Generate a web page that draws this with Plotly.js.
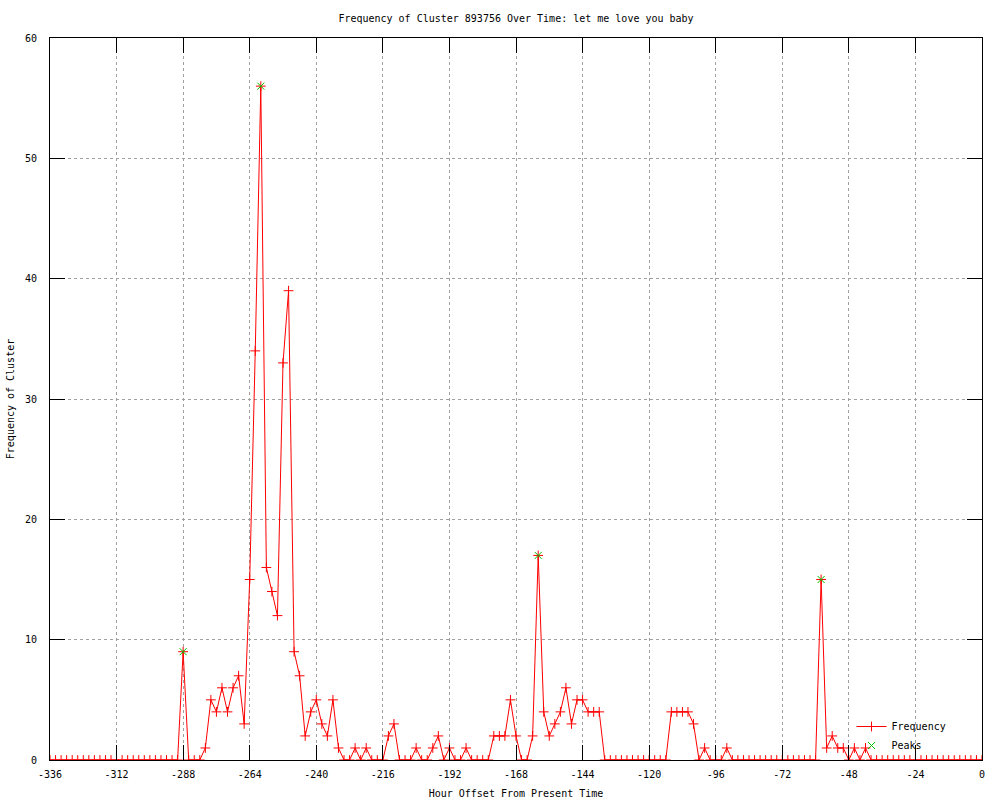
<!DOCTYPE html>
<html>
<head>
<meta charset="utf-8">
<script src="https://cdn.plot.ly/plotly-3.0.1.min.js"></script>
<style>html,body{margin:0;padding:0;background:#fff;}#chart{width:1000px;height:800px;}</style>
</head>
<body>
<div id="chart"></div>
<script>
// Hour offsets (every 2 hours)
var hours = [
  -336,-334,-332,-330,-328,-326,-324,-322,-320,-318,-316,-314,
  -312,-310,-308,-306,-304,-302,-300,-298,-296,-294,-292,-290,
  -288,-286,-284,-282,-280,-278,-276,-274,-272,-270,-268,-266,
  -264,-262,-260,-258,-256,-254,-252,-250,-248,-246,-244,-242,
  -240,-238,-236,-234,-232,-230,-228,-226,-224,-222,-220,-218,
  -216,-214,-212,-210,-208,-206,-204,-202,-200,-198,-196,-194,
  -192,-190,-188,-186,-184,-182,-180,-178,-176,-174,-172,-170,
  -168,-166,-164,-162,-160,-158,-156,-154,-152,-150,-148,-146,
  -144,-142,-140,-138,-136,-134,-132,-130,-128,-126,-124,-122,
  -120,-118,-116,-114,-112,-110,-108,-106,-104,-102,-100,-98,
  -96,-94,-92,-90,-88,-86,-84,-82,-80,-78,-76,-74,
  -72,-70,-68,-66,-64,-62,-60,-58,-56,-54,-52,-50,
  -48,-46,-44,-42,-40,-38,-36,-34,-32,-30,-28,-26,
  -24,-22,-20,-18,-16,-14,-12,-10,-8,-6,-4,-2,
  0
];
var frequency = [
  0,0,0,0,0,0,0,0,0,0,0,0,
  0,0,0,0,0,0,0,0,0,0,0,0,
  9,0,0,0,1,5,4,6,4,6,7,3,
  15,34,56,16,14,12,33,39,9,7,2,4,
  5,3,2,5,1,0,0,1,0,1,0,0,
  0,2,3,0,0,0,1,0,0,1,2,0,
  1,0,0,1,0,0,0,0,2,2,2,5,
  2,0,0,2,17,4,2,3,4,6,3,5,
  5,4,4,4,0,0,0,0,0,0,0,0,
  0,0,0,0,4,4,4,4,3,0,1,0,
  0,0,1,0,0,0,0,0,0,0,0,0,
  0,0,0,0,0,0,0,15,1,2,1,1,
  0,1,0,1,0,0,0,0,0,0,0,0,
  0,0,0,0,0,0,0,0,0,0,0,0,
  0
];
var peakHours = [-288, -260, -160, -58];
var peakValues = [9, 56, 17, 15];

var xTicks = [-336,-312,-288,-264,-240,-216,-192,-168,-144,-120,-96,-72,-48,-24,0];
var yTicks = [0,10,20,30,40,50,60];

var FONT = 'DejaVu Sans Mono, Liberation Mono, monospace';

var traces = [
  {
    x: hours, y: frequency, type: 'scatter', mode: 'lines+markers', name: 'Frequency',
    line: {color: '#ff0000', width: 1},
    marker: {symbol: 'cross-thin-open', size: 7, color: '#ff0000', line: {color: '#ff0000', width: 1}},
    hoverinfo: 'skip'
  },
  {
    x: peakHours, y: peakValues, type: 'scatter', mode: 'markers', name: 'Peaks',
    marker: {symbol: 'x-thin-open', size: 7, color: '#00c000', line: {color: '#00c000', width: 1}},
    hoverinfo: 'skip'
  }
];

var axisCommon = {
  showline: true, linecolor: '#000', linewidth: 1, mirror: 'ticks',
  ticks: 'inside', ticklen: 15, tickcolor: '#000', tickwidth: 1,
  showgrid: true, gridcolor: '#a0a0a0', griddash: 'dot', gridwidth: 1,
  zeroline: false, tickfont: {family: FONT, size: 10, color: '#000'}
};

var layout = {
  width: 1000, height: 800,
  margin: {l: 50, r: 18, t: 38, b: 40},
  paper_bgcolor: '#fff', plot_bgcolor: '#fff',
  font: {family: FONT, size: 10, color: '#000'},
  title: {text: 'Frequency of Cluster 893756 Over Time: let me love you baby',
          font: {family: FONT, size: 10, color: '#000'},
          x: 0.5, xref: 'paper', y: 0.977, yref: 'container', yanchor: 'middle'},
  xaxis: Object.assign({}, axisCommon, {
    range: [-336, 0], tickvals: xTicks, ticktext: xTicks.map(String),
    title: {text: 'Hour Offset From Present Time', font: {family: FONT, size: 10, color: '#000'}, standoff: 10},
    ticklabelstandoff: 5
  }),
  yaxis: Object.assign({}, axisCommon, {
    range: [0, 60], tickvals: yTicks, ticktext: yTicks.map(String),
    title: {text: 'Frequency of Cluster', font: {family: FONT, size: 10, color: '#000'}, standoff: 8},
    ticklabelstandoff: 10
  }),
  showlegend: true,
  legend: {x: 0.86, y: 0.0, xanchor: 'left', yanchor: 'bottom', bgcolor: 'rgba(0,0,0,0)',
           font: {family: FONT, size: 10, color: '#000'}, itemwidth: 30, tracegroupgap: 0}
};

Plotly.newPlot('chart', traces, layout, {staticPlot: true, displayModeBar: false});
</script>
</body>
</html>
